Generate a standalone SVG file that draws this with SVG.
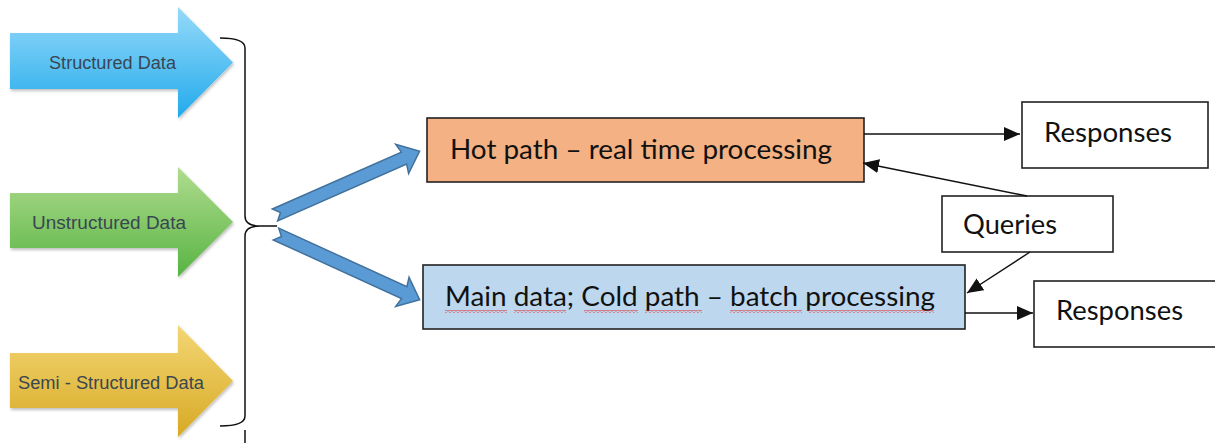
<svg xmlns="http://www.w3.org/2000/svg" width="1215" height="443" viewBox="0 0 1215 443">
<style>
.lbl{font-family:"Liberation Sans",Arial,sans-serif;font-size:17.5px;fill:#3a4652;text-anchor:middle}
.big{font-family:Lato,"Open Sans",sans-serif;font-size:26px;fill:#111}
.box{stroke:#222;stroke-width:1.6}
.wbox{fill:#fff;stroke:#222;stroke-width:1.6}
.con{stroke:#111;stroke-width:1.4;fill:none;marker-end:url(#ah)}
.blue{fill:#5b9bd5;stroke:#41719c;stroke-width:1.5}
.sq{fill:url(#sq)}
</style>
<defs>
<linearGradient id="gB" x1="0" y1="0" x2="0" y2="1"><stop offset="0" stop-color="#96daf9"/><stop offset="1" stop-color="#22aaec"/></linearGradient>
<linearGradient id="gG" x1="0" y1="0" x2="0" y2="1"><stop offset="0" stop-color="#b0dc8e"/><stop offset="1" stop-color="#58b444"/></linearGradient>
<linearGradient id="gY" x1="0" y1="0" x2="0" y2="1"><stop offset="0" stop-color="#f3d674"/><stop offset="1" stop-color="#d7aa25"/></linearGradient>
<marker id="ah" markerUnits="userSpaceOnUse" markerWidth="16" markerHeight="14" refX="16" refY="7" orient="auto"><path d="M0,0 L16,7 L0,14 z" fill="#111"/></marker>
<pattern id="sq" width="4" height="3" patternUnits="userSpaceOnUse"><path d="M0,2.5 L2,0.5 L4,2.5" fill="none" stroke="#e02828" stroke-width="1"/></pattern>
<filter id="sh" x="-10%" y="-10%" width="120%" height="130%"><feDropShadow dx="1" dy="2" stdDeviation="1.5" flood-color="#000" flood-opacity="0.25"/></filter>
</defs>

<g id="structured">
<polygon points="10,33 178,33 178,7 233,62.5 178,118 178,89 10,89" fill="url(#gB)" filter="url(#sh)"/>
<text class="lbl" x="112.5" y="69" textLength="127" lengthAdjust="spacingAndGlyphs">Structured Data</text>
</g>
<g id="unstructured">
<polygon points="10,193 178,193 178,167 233,222 178,277 178,248 10,248" fill="url(#gG)" filter="url(#sh)"/>
<text class="lbl" x="109" y="229" textLength="154" lengthAdjust="spacingAndGlyphs">Unstructured  Data</text>
</g>
<g id="semistructured">
<polygon points="10,353 178,353 178,325 233,381 178,437 178,408 10,408" fill="url(#gY)" filter="url(#sh)"/>
<text class="lbl" x="111" y="389" textLength="186" lengthAdjust="spacingAndGlyphs">Semi - Structured Data</text>
</g>

<g id="brace" fill="none" stroke="#111" stroke-width="1.5">
<path d="M220,38 Q245,38 245,48 L245,216 Q245,226 260,226 L277,226 M260,226 Q245,226 245,236 L245,416 Q245,426 220,426"/>
<path d="M245,430 L245,443"/>
</g>

<g id="split-arrows">
<polygon class="blue" transform="translate(275,215) rotate(-23.8)" points="0,-6.5 141,-6.5 139,-16 158,0 139,16 141,6.5 0,6.5 6,0"/>
<polygon class="blue" transform="translate(276,234) rotate(24.6)" points="0,-6.5 141,-6.5 139,-16 158,0 139,16 141,6.5 0,6.5 6,0"/>
</g>

<g id="hot">
<rect class="box" x="427" y="118" width="437" height="64" fill="#f4b183"/>
<text class="big" x="450" y="159" textLength="382" lengthAdjust="spacingAndGlyphs">Hot path – real time processing</text>
</g>
<g id="cold">
<rect class="box" x="423" y="265" width="542" height="64" fill="#bdd7ee"/>
<text class="big" x="445" y="306" textLength="490" lengthAdjust="spacingAndGlyphs">Main data; Cold path – batch processing</text>
<rect class="sq" x="445" y="310" width="62" height="3"/>
<rect class="sq" x="514" y="310" width="52" height="3"/>
<rect class="sq" x="584" y="310" width="54" height="3"/>
<rect class="sq" x="645" y="310" width="57" height="3"/>
<rect class="sq" x="730" y="310" width="72" height="3"/>
<rect class="sq" x="808" y="310" width="126" height="3"/>
</g>
<g id="responses1">
<rect class="wbox" x="1022" y="102" width="186" height="66"/>
<text class="big" x="1044" y="142" textLength="128" lengthAdjust="spacingAndGlyphs">Responses</text>
</g>
<g id="queries">
<rect class="wbox" x="942" y="196" width="171" height="56"/>
<text class="big" x="963" y="234" textLength="94" lengthAdjust="spacingAndGlyphs">Queries</text>
</g>
<g id="responses2">
<rect class="wbox" x="1034" y="281" width="190" height="66"/>
<text class="big" x="1056" y="320" textLength="127" lengthAdjust="spacingAndGlyphs">Responses</text>
</g>

<g id="connectors">
<line class="con" x1="864" y1="134" x2="1020" y2="134"/>
<line class="con" x1="1027" y1="196" x2="863" y2="163"/>
<line class="con" x1="1030" y1="252" x2="967" y2="293"/>
<line class="con" x1="965" y1="313" x2="1033" y2="313"/>
</g>
</svg>
